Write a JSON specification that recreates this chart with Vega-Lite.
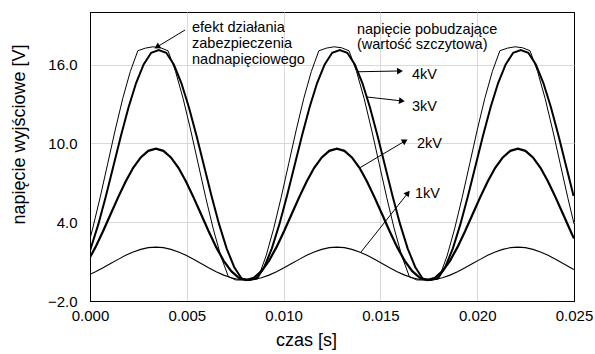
{
  "$schema": "https://vega.github.io/schema/vega-lite/v6.json",
  "width": 484,
  "height": 289,
  "autosize": {"type": "none"},
  "padding": {"left": 90, "top": 12, "right": 21, "bottom": 53},
  "background": "white",
  "config": {
    "font": "Liberation Sans",
    "view": {"stroke": "#000000", "strokeWidth": 1},
    "axis": {
      "grid": true,
      "gridColor": "#d9d9d9",
      "gridWidth": 1,
      "domain": true,
      "domainColor": "#000000",
      "domainWidth": 1,
      "ticks": false,
      "tickSize": 0,
      "labelColor": "#000000",
      "labelFontSize": 15,
      "labelFont": "Liberation Sans",
      "titleFont": "Liberation Sans",
      "titleFontSize": 18,
      "titleFontWeight": "normal",
      "titleColor": "#000000"
    }
  },
  "encoding": {
    "x": {
      "field": "t",
      "type": "quantitative",
      "title": "czas [s]",
      "scale": {"domain": [0, 0.025], "nice": false, "zero": false},
      "axis": {
        "values": [0, 0.005, 0.01, 0.015, 0.02, 0.025],
        "format": ".3f",
        "labelFlush": false,
        "labelOverlap": false,
        "labelPadding": 7,
        "titleX": 216,
        "titleY": 39,
        "titleBaseline": "middle",
        "gridColor": {"condition": {"test": "datum.value <= 0 || datum.value >= 0.025", "value": "#000000"}, "value": "#d9d9d9"}
      }
    },
    "y": {
      "field": "v",
      "type": "quantitative",
      "title": "napięcie wyjściowe [V]",
      "scale": {"domain": [-2, 20], "nice": false, "zero": false},
      "axis": {
        "values": [-2, 4, 10, 16],
        "format": ".1f",
        "labelOverlap": false,
        "labelPadding": 13,
        "titleX": -71,
        "titleY": 122,
        "titleBaseline": "middle",
        "gridColor": {"condition": {"test": "datum.value <= -2", "value": "#000000"}, "value": "#d9d9d9"}
      }
    }
  },
  "layer": [
    {
      "data": {"values": [
        {"t":0,"v":0.03},{"t":0.000283,"v":0.23},{"t":0.000673,"v":0.53},{"t":0.001063,"v":0.85},{"t":0.001452,"v":1.17},{"t":0.001842,"v":1.48},{"t":0.002231,"v":1.73},{"t":0.002621,"v":1.93},{"t":0.00301,"v":2.06},{"t":0.0034,"v":2.10},
        {"t":0.00379,"v":2.06},{"t":0.004179,"v":1.93},{"t":0.004569,"v":1.73},{"t":0.004958,"v":1.48},{"t":0.005348,"v":1.17},{"t":0.005738,"v":0.85},{"t":0.006127,"v":0.53},{"t":0.006517,"v":0.23},{"t":0.006906,"v":-0.03},{"t":0.007296,"v":-0.23},
        {"t":0.007685,"v":-0.36},{"t":0.008075,"v":-0.40},{"t":0.008465,"v":-0.36},{"t":0.008854,"v":-0.23},{"t":0.009244,"v":-0.03},{"t":0.009633,"v":0.23},{"t":0.010023,"v":0.53},{"t":0.010413,"v":0.85},{"t":0.010802,"v":1.17},{"t":0.011192,"v":1.48},
        {"t":0.011581,"v":1.73},{"t":0.011971,"v":1.93},{"t":0.01236,"v":2.06},{"t":0.01275,"v":2.10},{"t":0.01314,"v":2.06},{"t":0.013529,"v":1.93},{"t":0.013919,"v":1.73},{"t":0.014308,"v":1.48},{"t":0.014698,"v":1.17},{"t":0.015088,"v":0.85},
        {"t":0.015477,"v":0.53},{"t":0.015867,"v":0.23},{"t":0.016256,"v":-0.03},{"t":0.016646,"v":-0.23},{"t":0.017035,"v":-0.36},{"t":0.017425,"v":-0.40},{"t":0.017815,"v":-0.36},{"t":0.018204,"v":-0.23},{"t":0.018594,"v":-0.03},{"t":0.018983,"v":0.23},
        {"t":0.019373,"v":0.53},{"t":0.019763,"v":0.85},{"t":0.020152,"v":1.17},{"t":0.020542,"v":1.48},{"t":0.020931,"v":1.73},{"t":0.021321,"v":1.93},{"t":0.02171,"v":2.06},{"t":0.0221,"v":2.10},{"t":0.02249,"v":2.06},{"t":0.022879,"v":1.93},
        {"t":0.023269,"v":1.73},{"t":0.023658,"v":1.48},{"t":0.024048,"v":1.17},{"t":0.024438,"v":0.85},{"t":0.024827,"v":0.53},{"t":0.025,"v":0.39}
      ]},
      "mark": {"type": "line", "color": "#000000", "strokeWidth": 1.1, "clip": true}
    },
    {
      "data": {"values": [
        {"t":0,"v":1.33},{"t":0.000283,"v":2.10},{"t":0.000673,"v":3.31},{"t":0.001063,"v":4.60},{"t":0.001452,"v":5.89},{"t":0.001842,"v":7.10},{"t":0.002231,"v":8.14},{"t":0.002621,"v":8.93},{"t":0.00301,"v":9.43},{"t":0.0034,"v":9.60},
        {"t":0.00379,"v":9.43},{"t":0.004179,"v":8.93},{"t":0.004569,"v":8.14},{"t":0.004958,"v":7.10},{"t":0.005348,"v":5.89},{"t":0.005738,"v":4.60},{"t":0.006127,"v":3.31},{"t":0.006517,"v":2.10},{"t":0.006906,"v":1.06},{"t":0.007296,"v":0.27},
        {"t":0.007685,"v":-0.23},{"t":0.008075,"v":-0.40},{"t":0.008465,"v":-0.23},{"t":0.008854,"v":0.27},{"t":0.009244,"v":1.06},{"t":0.009633,"v":2.10},{"t":0.010023,"v":3.31},{"t":0.010413,"v":4.60},{"t":0.010802,"v":5.89},{"t":0.011192,"v":7.10},
        {"t":0.011581,"v":8.14},{"t":0.011971,"v":8.93},{"t":0.01236,"v":9.43},{"t":0.01275,"v":9.60},{"t":0.01314,"v":9.43},{"t":0.013529,"v":8.93},{"t":0.013919,"v":8.14},{"t":0.014308,"v":7.10},{"t":0.014698,"v":5.89},{"t":0.015088,"v":4.60},
        {"t":0.015477,"v":3.31},{"t":0.015867,"v":2.10},{"t":0.016256,"v":1.06},{"t":0.016646,"v":0.27},{"t":0.017035,"v":-0.23},{"t":0.017425,"v":-0.40},{"t":0.017815,"v":-0.23},{"t":0.018204,"v":0.27},{"t":0.018594,"v":1.06},{"t":0.018983,"v":2.10},
        {"t":0.019373,"v":3.31},{"t":0.019763,"v":4.60},{"t":0.020152,"v":5.89},{"t":0.020542,"v":7.10},{"t":0.020931,"v":8.14},{"t":0.021321,"v":8.93},{"t":0.02171,"v":9.43},{"t":0.0221,"v":9.60},{"t":0.02249,"v":9.43},{"t":0.022879,"v":8.93},
        {"t":0.023269,"v":8.14},{"t":0.023658,"v":7.10},{"t":0.024048,"v":5.89},{"t":0.024438,"v":4.60},{"t":0.024827,"v":3.31},{"t":0.025,"v":2.75}
      ]},
      "mark": {"type": "line", "color": "#000000", "strokeWidth": 2.2, "clip": true}
    },
    {
      "data": {"values": [
        {"t":0,"v":1.82},{"t":0.000433,"v":3.85},{"t":0.000823,"v":6.00},{"t":0.001213,"v":8.30},{"t":0.001602,"v":10.60},{"t":0.001992,"v":12.75},{"t":0.002381,"v":14.59},{"t":0.002771,"v":16.01},{"t":0.00316,"v":16.90},{"t":0.00355,"v":17.10},
        {"t":0.00394,"v":16.90},{"t":0.004329,"v":16.01},{"t":0.004719,"v":14.59},{"t":0.005108,"v":12.75},{"t":0.005498,"v":10.60},{"t":0.005888,"v":8.30},{"t":0.006277,"v":6.00},{"t":0.006667,"v":3.85},{"t":0.007056,"v":2.01},{"t":0.007446,"v":0.59},
        {"t":0.007835,"v":-0.30},{"t":0.008225,"v":-0.40},{"t":0.008615,"v":-0.30},{"t":0.009004,"v":0.59},{"t":0.009394,"v":2.01},{"t":0.009783,"v":3.85},{"t":0.010173,"v":6.00},{"t":0.010563,"v":8.30},{"t":0.010952,"v":10.60},{"t":0.011342,"v":12.75},
        {"t":0.011731,"v":14.59},{"t":0.012121,"v":16.01},{"t":0.01251,"v":16.90},{"t":0.0129,"v":17.10},{"t":0.01329,"v":16.90},{"t":0.013679,"v":16.01},{"t":0.014069,"v":14.59},{"t":0.014458,"v":12.75},{"t":0.014848,"v":10.60},{"t":0.015238,"v":8.30},
        {"t":0.015627,"v":6.00},{"t":0.016017,"v":3.85},{"t":0.016406,"v":2.01},{"t":0.016796,"v":0.59},{"t":0.017185,"v":-0.30},{"t":0.017575,"v":-0.40},{"t":0.017965,"v":-0.30},{"t":0.018354,"v":0.59},{"t":0.018744,"v":2.01},{"t":0.019133,"v":3.85},
        {"t":0.019523,"v":6.00},{"t":0.019913,"v":8.30},{"t":0.020302,"v":10.60},{"t":0.020692,"v":12.75},{"t":0.021081,"v":14.59},{"t":0.021471,"v":16.01},{"t":0.02186,"v":16.90},{"t":0.02225,"v":17.10},{"t":0.02264,"v":16.90},{"t":0.023029,"v":16.01},
        {"t":0.023419,"v":14.59},{"t":0.023808,"v":12.75},{"t":0.024198,"v":10.60},{"t":0.024588,"v":8.30},{"t":0.024977,"v":6.00}
      ]},
      "mark": {"type": "line", "color": "#000000", "strokeWidth": 2, "clip": true}
    },
    {
      "data": {"values": [
        {"t":0,"v":2.74},{"t":0.000133,"v":3.49},{"t":0.000523,"v":5.88},{"t":0.000913,"v":8.45},{"t":0.001302,"v":11.02},{"t":0.001692,"v":13.42},{"t":0.002081,"v":15.47},{"t":0.002471,"v":17.05},{"t":0.00286,"v":17.25},{"t":0.00325,"v":17.35},
        {"t":0.00364,"v":17.28},{"t":0.004029,"v":17.05},{"t":0.004419,"v":15.47},{"t":0.004808,"v":13.42},{"t":0.005198,"v":11.02},{"t":0.005588,"v":8.45},{"t":0.005977,"v":5.88},{"t":0.006367,"v":3.49},{"t":0.006756,"v":1.43},{"t":0.007146,"v":-0.15},
        {"t":0.007535,"v":-0.40},{"t":0.007925,"v":-0.40},{"t":0.008315,"v":-0.40},{"t":0.008704,"v":-0.15},{"t":0.009094,"v":1.43},{"t":0.009483,"v":3.49},{"t":0.009873,"v":5.88},{"t":0.010263,"v":8.45},{"t":0.010652,"v":11.02},{"t":0.011042,"v":13.42},
        {"t":0.011431,"v":15.47},{"t":0.011821,"v":17.05},{"t":0.01221,"v":17.25},{"t":0.0126,"v":17.35},{"t":0.01299,"v":17.28},{"t":0.013379,"v":17.05},{"t":0.013769,"v":15.47},{"t":0.014158,"v":13.42},{"t":0.014548,"v":11.02},{"t":0.014938,"v":8.45},
        {"t":0.015327,"v":5.88},{"t":0.015717,"v":3.49},{"t":0.016106,"v":1.43},{"t":0.016496,"v":-0.15},{"t":0.016885,"v":-0.40},{"t":0.017275,"v":-0.40},{"t":0.017665,"v":-0.40},{"t":0.018054,"v":-0.15},{"t":0.018444,"v":1.43},{"t":0.018833,"v":3.49},
        {"t":0.019223,"v":5.88},{"t":0.019613,"v":8.45},{"t":0.020002,"v":11.02},{"t":0.020392,"v":13.42},{"t":0.020781,"v":15.47},{"t":0.021171,"v":17.05},{"t":0.02156,"v":17.25},{"t":0.02195,"v":17.35},{"t":0.02234,"v":17.28},{"t":0.022729,"v":17.05},
        {"t":0.023119,"v":15.47},{"t":0.023508,"v":13.42},{"t":0.023898,"v":11.02},{"t":0.024288,"v":8.45},{"t":0.024677,"v":5.88},{"t":0.025,"v":3.88}
      ]},
      "mark": {"type": "line", "color": "#000000", "strokeWidth": 1, "clip": true}
    },
    {
      "data": {"values": [
        {"t":0.00491,"v":18.63,"t2":0.00346,"v2":17.34},
        {"t":0.0138,"v":15.45,"t2":0.01601,"v2":15.51},
        {"t":0.0143,"v":13.53,"t2":0.01611,"v2":13.23},
        {"t":0.01395,"v":8.15,"t2":0.01627,"v2":10.18},
        {"t":0.014,"v":1.73,"t2":0.01642,"v2":6.22}
      ]},
      "mark": {"type": "rule", "color": "#000000", "strokeWidth": 1},
      "encoding": {
        "x2": {"field": "t2"},
        "y2": {"field": "v2"}
      }
    },
    {
      "data": {"values": [
        {"t":0.00346,"v":17.34,"dir":149},
        {"t":0.01601,"v":15.51,"dir":358},
        {"t":0.01611,"v":13.23,"dir":7},
        {"t":0.01627,"v":10.18,"dir":329},
        {"t":0.01642,"v":6.22,"dir":308}
      ]},
      "mark": {"type": "point", "shape": "triangle-right", "filled": true, "color": "#000000", "size": 45, "opacity": 1},
      "encoding": {
        "angle": {"field": "dir", "type": "quantitative", "scale": null}
      }
    },
    {
      "data": {"values": [
        {"t":0.00527,"v":18.78,"label":"efekt działania"},
        {"t":0.00527,"v":17.56,"label":"zabezpieczenia"},
        {"t":0.00527,"v":16.35,"label":"nadnapięciowego"},
        {"t":0.01379,"v":18.63,"label":"napięcie pobudzające"},
        {"t":0.01379,"v":17.49,"label":"(wartość szczytowa)"},
        {"t":0.01663,"v":15.2,"label":"4kV"},
        {"t":0.01663,"v":12.77,"label":"3kV"},
        {"t":0.01689,"v":9.95,"label":"2kV"},
        {"t":0.01679,"v":6.15,"label":"1kV"}
      ]},
      "mark": {"type": "text", "align": "left", "baseline": "middle", "fontSize": 14.5, "font": "Liberation Sans", "color": "#000000"},
      "encoding": {
        "text": {"field": "label"}
      }
    }
  ]
}
